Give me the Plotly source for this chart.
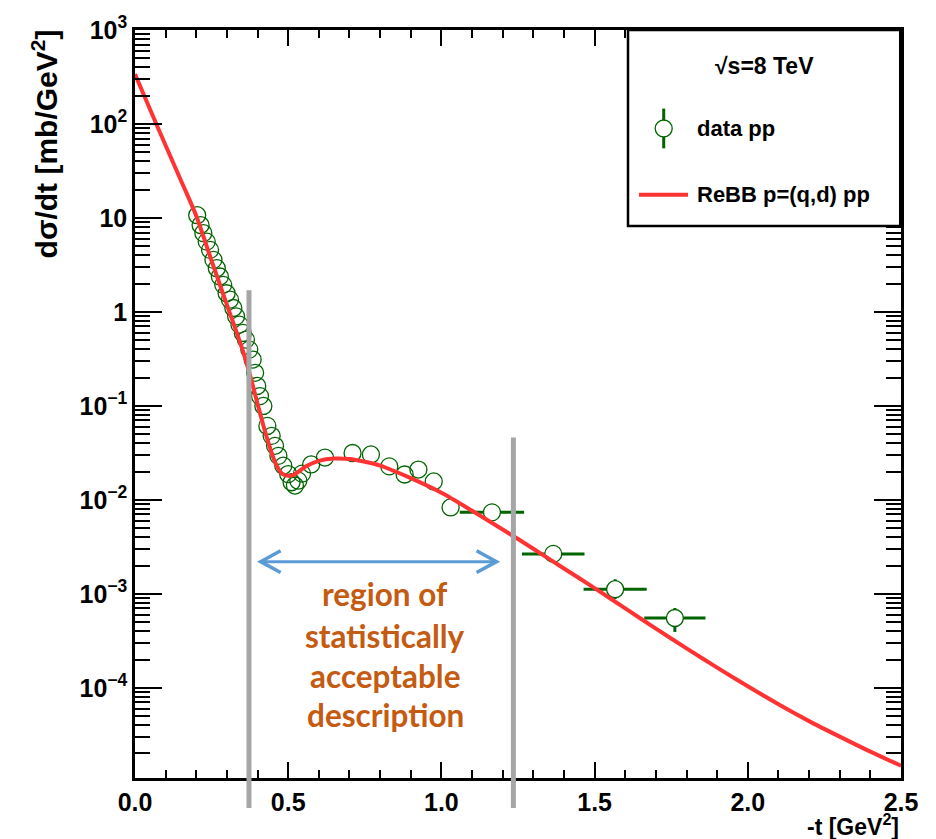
import numpy as np
import plotly.graph_objects as go

# ---------------- data ----------------
# dense measured points (-t [GeV^2], dsigma/dt [mb/GeV^2])
t_data = [0.203, 0.214, 0.223, 0.234, 0.245, 0.256, 0.267, 0.277, 0.288, 0.299,
          0.310, 0.321, 0.330, 0.341, 0.352, 0.362, 0.373, 0.384, 0.392, 0.399,
          0.408, 0.419, 0.432, 0.446, 0.457, 0.468, 0.484, 0.500, 0.511, 0.522,
          0.533, 0.545, 0.575, 0.620, 0.710, 0.770, 0.830, 0.880, 0.925, 0.975,
          1.030]
sig_data = [10.7, 8.4, 6.9, 5.6, 4.57, 3.58, 2.92, 2.38, 1.94, 1.58,
            1.35, 1.10, 0.897, 0.732, 0.597, 0.507, 0.397, 0.311, 0.225, 0.163,
            0.127, 0.0998, 0.0612, 0.048, 0.0376, 0.0294, 0.0231, 0.0188, 0.0154, 0.0142,
            0.0160, 0.0190, 0.0238, 0.0282, 0.0315, 0.0304, 0.0227, 0.0186, 0.0210, 0.0157,
            0.0083]

# wide-bin points with error bars
t_wide = [1.165, 1.365, 1.567, 1.762]
sig_wide = [0.00736, 0.00266, 0.00112, 0.000553]
terr_wide = [0.105, 0.102, 0.103, 0.100]
sig_err_up = [0.0012, 0.00057, 0.00031, 0.000153]
sig_err_dn = [0.0010, 0.00047, 0.00024, 0.00016]

# ReBB model curve
t_model = [0.00, 0.05, 0.10, 0.15, 0.20, 0.25, 0.30, 0.35, 0.375, 0.40,
           0.42, 0.44, 0.46, 0.48, 0.50, 0.52, 0.56, 0.60, 0.65, 0.70,
           0.75, 0.80, 0.90, 1.00, 1.10, 1.20, 1.30, 1.40, 1.50, 1.60,
           1.70, 1.80, 1.90, 2.00, 2.10, 2.20, 2.30, 2.40, 2.50]
sig_model = [340, 141, 59, 25, 10.5, 3.5, 1.19, 0.405, 0.215, 0.105,
             0.060, 0.0363, 0.024, 0.019, 0.018, 0.0186, 0.0229, 0.026, 0.0275, 0.0272,
             0.0254, 0.0231, 0.0170, 0.0119, 0.00767, 0.00484, 0.00302, 0.00186, 0.00115, 0.000700,
             0.000427, 0.000263, 0.000164, 0.000104, 6.68e-05, 4.42e-05, 3.02e-05, 2.09e-05, 1.48e-05]

y_ticks = [1e-4, 1e-3, 1e-2, 1e-1, 1, 10, 100, 1000]
y_ticktext = ['10<sup>\u22124</sup>', '10<sup>\u22123</sup>', '10<sup>\u22122</sup>',
              '10<sup>\u22121</sup>', '1', '10', '10<sup>2</sup>', '10<sup>3</sup>']
x_ticks = [0.0, 0.5, 1.0, 1.5, 2.0, 2.5]
x_ticktext = ['0.0', '0.5', '1.0', '1.5', '2.0', '2.5']

cut_lo, cut_hi = 0.372, 1.235          # grey vertical lines
cut_lo_top, cut_hi_top = 1.7, 0.046     # their upper ends (dsigma/dt)
arrow_t = [0.41, 1.18]
arrow_sig = 0.0022
region_lines = ['region of', 'statistically', 'acceptable', 'description']
region_t = 0.816
region_sig = [1.0e-3, 3.6e-4, 1.33e-4, 5.1e-5]

# ---------------- figure ----------------
YMIN_LOG, YMAX_LOG = -4.96, 3.0
GREEN = '#006400'
RED = '#ff3333'
GREY = '#a6a6a6'
ORANGE = '#c55a11'
BLUE = '#5b9bd5'
FONT = 'Liberation Sans, Arial, sans-serif'

def ypaper(v):
    return (np.log10(v) - YMIN_LOG) / (YMAX_LOG - YMIN_LOG)

fig = go.Figure()

fig.add_trace(go.Scatter(
    x=t_data, y=sig_data, mode='markers',
    marker=dict(symbol='circle-open', size=17, color=GREEN, line=dict(width=1.3, color=GREEN)),
    showlegend=False, hoverinfo='skip'))

fig.add_trace(go.Scatter(
    x=t_wide, y=sig_wide, mode='markers',
    marker=dict(symbol='circle', size=17, color='white', line=dict(width=1.3, color=GREEN)),
    error_x=dict(type='data', array=terr_wide, color=GREEN, thickness=3, width=0),
    error_y=dict(type='data', symmetric=False, array=sig_err_up, arrayminus=sig_err_dn,
                 color=GREEN, thickness=3, width=0),
    showlegend=False, hoverinfo='skip'))

fig.add_trace(go.Scatter(
    x=t_model, y=sig_model, mode='lines',
    line=dict(color=RED, width=4, shape='spline', smoothing=0.8),
    showlegend=False, hoverinfo='skip'))

shapes = []
# grey cut lines
for tc, top in [(cut_lo, cut_lo_top), (cut_hi, cut_hi_top)]:
    shapes.append(dict(type='line', xref='x', yref='paper', x0=tc, x1=tc,
                       y0=-0.04, y1=ypaper(top), line=dict(color=GREY, width=5), layer='above'))

# blue double arrow
ay = ypaper(arrow_sig)
arm_t = 20 / 306.4
arm_y = 11 / 752
shapes.append(dict(type='line', xref='x', yref='paper', x0=arrow_t[0], x1=arrow_t[1],
                   y0=ay, y1=ay, line=dict(color=BLUE, width=3)))
for tip, sgn in [(arrow_t[0], 1), (arrow_t[1], -1)]:
    shapes.append(dict(type='path', xref='x', yref='paper',
                       path=f'M {tip + sgn*arm_t} {ay + arm_y} L {tip} {ay} L {tip + sgn*arm_t} {ay - arm_y}',
                       line=dict(color=BLUE, width=3.5)))

# legend box
lx0, lx1 = (628 - 135) / 766, 0.999
ly0, ly1 = (778 - 223) / 752, 1.0
shapes.append(dict(type='rect', xref='paper', yref='paper', x0=lx0, x1=lx1, y0=ly0, y1=ly1,
                   line=dict(color='black', width=2.5), fillcolor='white', layer='above'))
mx, my = (663.7 - 135) / 766, (778 - 125) / 752
shapes.append(dict(type='line', xref='paper', yref='paper', x0=mx, x1=mx,
                   y0=my - 20 / 752, y1=my + 20 / 752, line=dict(color=GREEN, width=3), layer='above'))
shapes.append(dict(type='circle', xref='paper', yref='paper',
                   x0=mx - 8.5 / 766, x1=mx + 8.5 / 766, y0=my - 8.5 / 752, y1=my + 8.5 / 752,
                   line=dict(color=GREEN, width=1.3), fillcolor='white', layer='above'))
ry = (778 - 191.7) / 752
shapes.append(dict(type='line', xref='paper', yref='paper', x0=(639 - 135) / 766, x1=(688 - 135) / 766,
                   y0=ry, y1=ry, line=dict(color=RED, width=4), layer='above'))

annotations = []
lfont = dict(family=FONT, size=22, color='black', weight='bold')
annotations.append(dict(xref='paper', yref='paper', x=(764 - 135) / 766, y=(778 - 61.7) / 752,
                        text='\u221as=8 TeV', showarrow=False,
                        font=dict(family=FONT, size=23, color='black', weight='bold'),
                        xanchor='center', yanchor='middle'))
annotations.append(dict(xref='paper', yref='paper', x=(695 - 135) / 766, y=my,
                        text='data pp', showarrow=False, font=lfont,
                        xanchor='left', yanchor='middle'))
annotations.append(dict(xref='paper', yref='paper', x=(695 - 135) / 766, y=ry,
                        text='ReBB p=(q,d) pp', showarrow=False, font=lfont,
                        xanchor='left', yanchor='middle'))

for line, sv in zip(region_lines, region_sig):
    annotations.append(dict(xref='x', yref='y', x=region_t, y=np.log10(sv), text=line,
                            showarrow=False, xanchor='center', yanchor='middle',
                            font=dict(family='Lato, sans-serif', size=31.5, color=ORANGE, weight='bold')))

# axis titles
annotations.append(dict(xref='paper', yref='paper', x=(45 - 135) / 766, y=(778 - 141) / 752,
                        text='d\u03c3/dt [mb/GeV<sup>2</sup>]', textangle=-90, showarrow=False,
                        xanchor='center', yanchor='middle',
                        font=dict(family=FONT, size=30, color='black', weight='bold')))
annotations.append(dict(xref='paper', yref='paper', x=1.0, y=(778 - 825) / 752,
                        text='-t [GeV<sup>2</sup>]', showarrow=False,
                        xanchor='right', yanchor='middle',
                        font=dict(family=FONT, size=23, color='black', weight='bold')))

tickfont = dict(family=FONT, size=25, color='black', weight='bold')
fig.update_layout(
    width=936, height=839,
    margin=dict(l=135, r=35, t=26, b=61),
    paper_bgcolor='white', plot_bgcolor='white',
    shapes=shapes, annotations=annotations,
    xaxis=dict(range=[0, 2.5], showgrid=False, zeroline=False,
               showline=True, linecolor='black', linewidth=2.5, mirror='allticks',
               ticks='inside', ticklen=16, tickwidth=2, tickcolor='black',
               tickmode='array', tickvals=x_ticks, ticktext=x_ticktext, tickfont=tickfont,
               minor=dict(dtick=0.1, ticks='inside', ticklen=8, tickwidth=2,
                          tickcolor='black', showgrid=False)),
    yaxis=dict(type='log', range=[YMIN_LOG, YMAX_LOG], showgrid=False, zeroline=False,
               showline=True, linecolor='black', linewidth=2.5, mirror='allticks',
               ticks='inside', ticklen=27, tickwidth=2, tickcolor='black',
               tickmode='array', tickvals=y_ticks, ticktext=y_ticktext, tickfont=tickfont,
               minor=dict(dtick='D1', ticks='inside', ticklen=15, tickwidth=2,
                          tickcolor='black', showgrid=False)),
)

fig.write_html('out.html')
